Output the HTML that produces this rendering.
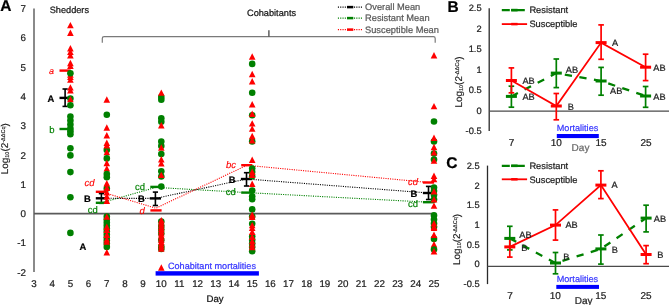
<!DOCTYPE html>
<html><head><meta charset="utf-8"><style>
html,body{margin:0;padding:0;background:#fff;}
body{width:669px;height:305px;overflow:hidden;}
svg{display:block;font-family:"Liberation Sans", sans-serif;will-change:transform;text-rendering:geometricPrecision;}
</style></head><body>
<svg width="669" height="305" viewBox="0 0 669 305">
<rect width="669" height="305" fill="#fff"/>
<text x="0.3" y="11.2" font-size="15.5" fill="#000" stroke="#000" stroke-width="0.22" text-anchor="start" font-weight="bold" font-style="normal" >A</text>
<text x="26" y="12.0" font-size="9.8" fill="#222" stroke="#222" stroke-width="0.22" text-anchor="end" font-weight="normal" font-style="normal" >7</text>
<text x="26" y="41.3" font-size="9.8" fill="#222" stroke="#222" stroke-width="0.22" text-anchor="end" font-weight="normal" font-style="normal" >6</text>
<text x="26" y="70.6" font-size="9.8" fill="#222" stroke="#222" stroke-width="0.22" text-anchor="end" font-weight="normal" font-style="normal" >5</text>
<text x="26" y="99.9" font-size="9.8" fill="#222" stroke="#222" stroke-width="0.22" text-anchor="end" font-weight="normal" font-style="normal" >4</text>
<text x="26" y="129.2" font-size="9.8" fill="#222" stroke="#222" stroke-width="0.22" text-anchor="end" font-weight="normal" font-style="normal" >3</text>
<text x="26" y="158.5" font-size="9.8" fill="#222" stroke="#222" stroke-width="0.22" text-anchor="end" font-weight="normal" font-style="normal" >2</text>
<text x="26" y="187.8" font-size="9.8" fill="#222" stroke="#222" stroke-width="0.22" text-anchor="end" font-weight="normal" font-style="normal" >1</text>
<text x="26" y="217.1" font-size="9.8" fill="#222" stroke="#222" stroke-width="0.22" text-anchor="end" font-weight="normal" font-style="normal" >0</text>
<text x="26" y="246.4" font-size="9.8" fill="#222" stroke="#222" stroke-width="0.22" text-anchor="end" font-weight="normal" font-style="normal" >-1</text>
<text x="26" y="275.7" font-size="9.8" fill="#222" stroke="#222" stroke-width="0.22" text-anchor="end" font-weight="normal" font-style="normal" >-2</text>
<text x="34.0" y="286.8" font-size="9.8" fill="#222" stroke="#222" stroke-width="0.22" text-anchor="middle" font-weight="normal" font-style="normal" >3</text>
<text x="52.18" y="286.8" font-size="9.8" fill="#222" stroke="#222" stroke-width="0.22" text-anchor="middle" font-weight="normal" font-style="normal" >4</text>
<text x="70.36" y="286.8" font-size="9.8" fill="#222" stroke="#222" stroke-width="0.22" text-anchor="middle" font-weight="normal" font-style="normal" >5</text>
<text x="88.54" y="286.8" font-size="9.8" fill="#222" stroke="#222" stroke-width="0.22" text-anchor="middle" font-weight="normal" font-style="normal" >6</text>
<text x="106.72" y="286.8" font-size="9.8" fill="#222" stroke="#222" stroke-width="0.22" text-anchor="middle" font-weight="normal" font-style="normal" >7</text>
<text x="124.9" y="286.8" font-size="9.8" fill="#222" stroke="#222" stroke-width="0.22" text-anchor="middle" font-weight="normal" font-style="normal" >8</text>
<text x="143.08" y="286.8" font-size="9.8" fill="#222" stroke="#222" stroke-width="0.22" text-anchor="middle" font-weight="normal" font-style="normal" >9</text>
<text x="161.26" y="286.8" font-size="9.8" fill="#222" stroke="#222" stroke-width="0.22" text-anchor="middle" font-weight="normal" font-style="normal" >10</text>
<text x="179.44" y="286.8" font-size="9.8" fill="#222" stroke="#222" stroke-width="0.22" text-anchor="middle" font-weight="normal" font-style="normal" >11</text>
<text x="197.62" y="286.8" font-size="9.8" fill="#222" stroke="#222" stroke-width="0.22" text-anchor="middle" font-weight="normal" font-style="normal" >12</text>
<text x="215.8" y="286.8" font-size="9.8" fill="#222" stroke="#222" stroke-width="0.22" text-anchor="middle" font-weight="normal" font-style="normal" >13</text>
<text x="233.98" y="286.8" font-size="9.8" fill="#222" stroke="#222" stroke-width="0.22" text-anchor="middle" font-weight="normal" font-style="normal" >14</text>
<text x="252.16" y="286.8" font-size="9.8" fill="#222" stroke="#222" stroke-width="0.22" text-anchor="middle" font-weight="normal" font-style="normal" >15</text>
<text x="270.34" y="286.8" font-size="9.8" fill="#222" stroke="#222" stroke-width="0.22" text-anchor="middle" font-weight="normal" font-style="normal" >16</text>
<text x="288.52" y="286.8" font-size="9.8" fill="#222" stroke="#222" stroke-width="0.22" text-anchor="middle" font-weight="normal" font-style="normal" >17</text>
<text x="306.7" y="286.8" font-size="9.8" fill="#222" stroke="#222" stroke-width="0.22" text-anchor="middle" font-weight="normal" font-style="normal" >18</text>
<text x="324.88" y="286.8" font-size="9.8" fill="#222" stroke="#222" stroke-width="0.22" text-anchor="middle" font-weight="normal" font-style="normal" >19</text>
<text x="343.06" y="286.8" font-size="9.8" fill="#222" stroke="#222" stroke-width="0.22" text-anchor="middle" font-weight="normal" font-style="normal" >20</text>
<text x="361.24" y="286.8" font-size="9.8" fill="#222" stroke="#222" stroke-width="0.22" text-anchor="middle" font-weight="normal" font-style="normal" >21</text>
<text x="379.42" y="286.8" font-size="9.8" fill="#222" stroke="#222" stroke-width="0.22" text-anchor="middle" font-weight="normal" font-style="normal" >22</text>
<text x="397.6" y="286.8" font-size="9.8" fill="#222" stroke="#222" stroke-width="0.22" text-anchor="middle" font-weight="normal" font-style="normal" >23</text>
<text x="415.78" y="286.8" font-size="9.8" fill="#222" stroke="#222" stroke-width="0.22" text-anchor="middle" font-weight="normal" font-style="normal" >24</text>
<text x="433.96" y="286.8" font-size="9.8" fill="#222" stroke="#222" stroke-width="0.22" text-anchor="middle" font-weight="normal" font-style="normal" >25</text>
<text x="215" y="301.7" font-size="9.6" fill="#111" stroke="#111" stroke-width="0.22" text-anchor="middle" font-weight="normal" font-style="normal" >Day</text>
<line x1="34" y1="8.5" x2="34" y2="272" stroke="#8a8a8a" stroke-width="2" />
<line x1="34" y1="213.6" x2="434" y2="213.6" stroke="#5a5a5a" stroke-width="1.7" />
<text transform="translate(7.5,148.7) rotate(-90)" font-size="9.9" fill="#222" stroke="#222" stroke-width="0.15" text-anchor="middle">Log<tspan font-size="5.54" dy="1.6">10</tspan><tspan dy="-1.6">(2</tspan><tspan font-size="5.54" dy="-2.6">-ΔΔCq</tspan><tspan dy="2.6">)</tspan></text>
<text x="49.7" y="12.7" font-size="9.2" fill="#111" stroke="#111" stroke-width="0.22" text-anchor="start" font-weight="normal" font-style="normal" >Shedders</text>
<text x="247" y="16" font-size="9.2" fill="#111" stroke="#111" stroke-width="0.22" text-anchor="start" font-weight="normal" font-style="normal" >Cohabitants</text>
<path d="M102.3 42.8 L102.3 38.4 Q102.3 36.6 104.1 36.6 L433.4 36.6 Q435.2 36.6 435.2 38.4 L435.2 42.8" fill="none" stroke="#7a7a7a" stroke-width="1.2"/>
<line x1="268.9" y1="30.2" x2="268.9" y2="36.6" stroke="#444" stroke-width="1.3" />
<line x1="337.9" y1="7.1" x2="362.5" y2="7.1" stroke="#000000" stroke-width="1.1" stroke-dasharray="1.1 1.2"/>
<rect x="347" y="5.85" width="6.3" height="2.5" fill="#000000"/>
<text x="365" y="10.399999999999999" font-size="9.3" fill="#595959" stroke="#595959" stroke-width="0.22" text-anchor="start" font-weight="normal" font-style="normal" >Overall Mean</text>
<line x1="337.9" y1="18.1" x2="362.5" y2="18.1" stroke="#008000" stroke-width="1.1" stroke-dasharray="1.1 1.2"/>
<rect x="347" y="16.85" width="6.3" height="2.5" fill="#008000"/>
<text x="365" y="21.400000000000002" font-size="9.3" fill="#595959" stroke="#595959" stroke-width="0.22" text-anchor="start" font-weight="normal" font-style="normal" >Resistant Mean</text>
<line x1="337.9" y1="29.6" x2="362.5" y2="29.6" stroke="#ff0000" stroke-width="1.1" stroke-dasharray="1.1 1.2"/>
<rect x="347" y="28.35" width="6.3" height="2.5" fill="#ff0000"/>
<text x="365" y="32.9" font-size="9.3" fill="#595959" stroke="#595959" stroke-width="0.22" text-anchor="start" font-weight="normal" font-style="normal" >Susceptible Mean</text>
<rect x="155.6" y="271.2" width="103.3" height="4.4" fill="#0000ff"/>
<text x="168" y="268.6" font-size="9.1" fill="#3737ff" stroke="#3737ff" stroke-width="0.22" text-anchor="start" font-weight="normal" font-style="normal" >Cohabitant mortalities</text>
<polyline points="101.4,202.8 155.9,187.4 246.8,192.6 428.5,202.2" fill="none" stroke="#008000" stroke-width="1.1" stroke-dasharray="1.1 1.2"/>
<polyline points="101.4,198.3 155.4,198.4 246.5,179.0 428.5,193.0" fill="none" stroke="#000000" stroke-width="1.1" stroke-dasharray="1.1 1.2"/>
<polyline points="101.4,191.8 155.8,208.2 246.8,165.3 428.5,182.5" fill="none" stroke="#ff0000" stroke-width="1.1" stroke-dasharray="1.1 1.2"/>
<rect x="59.5" y="69.4" width="11.2" height="2.4" fill="#ff0000"/>
<rect x="59.5" y="127.8" width="11.2" height="2.4" fill="#008000"/>
<line x1="65.1" y1="89.0" x2="65.1" y2="106.4" stroke="#000000" stroke-width="1.6" />
<line x1="62.49999999999999" y1="89.0" x2="67.69999999999999" y2="89.0" stroke="#000000" stroke-width="1.6" />
<line x1="62.49999999999999" y1="106.4" x2="67.69999999999999" y2="106.4" stroke="#000000" stroke-width="1.6" />
<rect x="59.5" y="96.7" width="11.2" height="2.4" fill="#000000"/>
<rect x="95.8" y="190.6" width="11.2" height="2.4" fill="#ff0000"/>
<line x1="101.4" y1="193.6" x2="101.4" y2="203.3" stroke="#000000" stroke-width="1.6" />
<line x1="98.80000000000001" y1="193.6" x2="104.0" y2="193.6" stroke="#000000" stroke-width="1.6" />
<line x1="98.80000000000001" y1="203.3" x2="104.0" y2="203.3" stroke="#000000" stroke-width="1.6" />
<rect x="95.8" y="197.1" width="11.2" height="2.4" fill="#000000"/>
<rect x="95.8" y="201.6" width="11.2" height="2.4" fill="#008000"/>
<rect x="150.3" y="185.7" width="11.2" height="2.4" fill="#008000"/>
<line x1="155.4" y1="192.1" x2="155.4" y2="205.5" stroke="#000000" stroke-width="1.6" />
<line x1="152.8" y1="192.1" x2="158.0" y2="192.1" stroke="#000000" stroke-width="1.6" />
<line x1="152.8" y1="205.5" x2="158.0" y2="205.5" stroke="#000000" stroke-width="1.6" />
<rect x="149.8" y="197.2" width="11.2" height="2.4" fill="#000000"/>
<rect x="150.4" y="209.2" width="11.2" height="2.4" fill="#ff0000"/>
<rect x="241.2" y="164.0" width="11.2" height="2.4" fill="#ff0000"/>
<line x1="246.5" y1="172.7" x2="246.5" y2="186.0" stroke="#000000" stroke-width="1.6" />
<line x1="243.9" y1="172.7" x2="249.1" y2="172.7" stroke="#000000" stroke-width="1.6" />
<line x1="243.9" y1="186.0" x2="249.1" y2="186.0" stroke="#000000" stroke-width="1.6" />
<rect x="240.9" y="177.8" width="11.2" height="2.4" fill="#000000"/>
<rect x="241.2" y="191.4" width="11.2" height="2.4" fill="#008000"/>
<rect x="422.9" y="181.3" width="11.2" height="2.4" fill="#ff0000"/>
<line x1="428.5" y1="186.4" x2="428.5" y2="199.5" stroke="#000000" stroke-width="1.6" />
<line x1="425.9" y1="186.4" x2="431.1" y2="186.4" stroke="#000000" stroke-width="1.6" />
<line x1="425.9" y1="199.5" x2="431.1" y2="199.5" stroke="#000000" stroke-width="1.6" />
<rect x="422.9" y="191.8" width="11.2" height="2.4" fill="#000000"/>
<rect x="422.9" y="201.0" width="11.2" height="2.4" fill="#008000"/>
<text x="48.9" y="73.9" font-size="9" fill="#ff0000" stroke="#ff0000" stroke-width="0.12" text-anchor="start" font-weight="normal" font-style="italic" >a</text>
<text x="49.3" y="133.0" font-size="9.5" fill="#008000" stroke="#008000" stroke-width="0.15" text-anchor="start" font-weight="normal" font-style="normal" >b</text>
<text x="47.4" y="101.7" font-size="9.4" fill="#000" stroke="#000" stroke-width="0.22" text-anchor="start" font-weight="bold" font-style="normal" >A</text>
<text x="79.5" y="250.20000000000002" font-size="9.4" fill="#000" stroke="#000" stroke-width="0.22" text-anchor="start" font-weight="bold" font-style="normal" >A</text>
<text x="84.5" y="185.8" font-size="9.5" fill="#ff0000" stroke="#ff0000" stroke-width="0.12" text-anchor="start" font-weight="normal" font-style="italic" >cd</text>
<text x="83.9" y="202.10000000000002" font-size="9.4" fill="#000" stroke="#000" stroke-width="0.22" text-anchor="start" font-weight="bold" font-style="normal" >B</text>
<text x="87.7" y="213.0" font-size="9.5" fill="#008000" stroke="#008000" stroke-width="0.15" text-anchor="start" font-weight="normal" font-style="normal" >cd</text>
<text x="135.0" y="189.6" font-size="9.5" fill="#008000" stroke="#008000" stroke-width="0.15" text-anchor="start" font-weight="normal" font-style="normal" >cd</text>
<text x="137.9" y="201.8" font-size="9.4" fill="#000" stroke="#000" stroke-width="0.22" text-anchor="start" font-weight="bold" font-style="normal" >B</text>
<text x="139.5" y="213.5" font-size="9.5" fill="#ff0000" stroke="#ff0000" stroke-width="0.12" text-anchor="start" font-weight="normal" font-style="italic" >d</text>
<text x="226.0" y="167.5" font-size="9.5" fill="#ff0000" stroke="#ff0000" stroke-width="0.12" text-anchor="start" font-weight="normal" font-style="italic" >bc</text>
<text x="228.8" y="182.60000000000002" font-size="9.4" fill="#000" stroke="#000" stroke-width="0.22" text-anchor="start" font-weight="bold" font-style="normal" >B</text>
<text x="225.7" y="195.4" font-size="9.5" fill="#008000" stroke="#008000" stroke-width="0.15" text-anchor="start" font-weight="normal" font-style="normal" >cd</text>
<text x="408.0" y="185.1" font-size="9.5" fill="#ff0000" stroke="#ff0000" stroke-width="0.12" text-anchor="start" font-weight="normal" font-style="italic" >cd</text>
<text x="410.4" y="196.5" font-size="9.4" fill="#000" stroke="#000" stroke-width="0.22" text-anchor="start" font-weight="bold" font-style="normal" >B</text>
<text x="407.9" y="207.0" font-size="9.5" fill="#008000" stroke="#008000" stroke-width="0.15" text-anchor="start" font-weight="normal" font-style="normal" >cd</text>
<path d="M70.40 21.90L73.70 28.30L67.10 28.30Z" fill="#ff0000"/>
<path d="M70.40 29.60L73.70 36.00L67.10 36.00Z" fill="#ff0000"/>
<path d="M70.40 45.00L73.70 51.40L67.10 51.40Z" fill="#ff0000"/>
<path d="M70.40 48.70L73.70 55.10L67.10 55.10Z" fill="#ff0000"/>
<path d="M70.40 52.10L73.70 58.50L67.10 58.50Z" fill="#ff0000"/>
<path d="M70.40 59.80L73.70 66.20L67.10 66.20Z" fill="#ff0000"/>
<path d="M70.40 62.60L73.70 69.00L67.10 69.00Z" fill="#ff0000"/>
<path d="M70.40 71.40L73.70 77.80L67.10 77.80Z" fill="#ff0000"/>
<path d="M70.40 73.70L73.70 80.10L67.10 80.10Z" fill="#ff0000"/>
<path d="M70.40 76.40L73.70 82.80L67.10 82.80Z" fill="#ff0000"/>
<circle cx="70.40" cy="73.30" r="3.3" fill="#008000"/>
<path d="M70.40 84.20L73.70 90.60L67.10 90.60Z" fill="#ff0000"/>
<path d="M70.40 87.10L73.70 93.50L67.10 93.50Z" fill="#ff0000"/>
<circle cx="70.40" cy="98.50" r="3.3" fill="#008000"/>
<path d="M70.40 95.90L73.70 102.30L67.10 102.30Z" fill="#ff0000"/>
<circle cx="70.40" cy="105.20" r="3.3" fill="#008000"/>
<circle cx="70.40" cy="116.50" r="3.3" fill="#008000"/>
<circle cx="70.40" cy="120.50" r="3.3" fill="#008000"/>
<circle cx="70.40" cy="124.50" r="3.3" fill="#008000"/>
<circle cx="70.40" cy="128.50" r="3.3" fill="#008000"/>
<circle cx="70.40" cy="131.30" r="3.3" fill="#008000"/>
<circle cx="70.40" cy="134.20" r="3.3" fill="#008000"/>
<circle cx="70.40" cy="148.30" r="3.3" fill="#008000"/>
<circle cx="70.40" cy="155.40" r="3.3" fill="#008000"/>
<circle cx="70.40" cy="172.10" r="3.3" fill="#008000"/>
<circle cx="70.40" cy="197.30" r="3.3" fill="#008000"/>
<circle cx="70.40" cy="232.90" r="3.3" fill="#008000"/>
<path d="M106.80 96.30L110.10 102.70L103.50 102.70Z" fill="#ff0000"/>
<circle cx="106.80" cy="114.80" r="3.3" fill="#008000"/>
<path d="M106.80 124.30L110.10 130.70L103.50 130.70Z" fill="#ff0000"/>
<path d="M106.80 132.10L110.10 138.50L103.50 138.50Z" fill="#ff0000"/>
<circle cx="106.80" cy="150.00" r="3.3" fill="#008000"/>
<path d="M106.80 139.60L110.10 146.00L103.50 146.00Z" fill="#ff0000"/>
<path d="M106.80 142.10L110.10 148.50L103.50 148.50Z" fill="#ff0000"/>
<path d="M106.80 148.90L110.10 155.30L103.50 155.30Z" fill="#ff0000"/>
<circle cx="106.80" cy="158.40" r="3.3" fill="#008000"/>
<path d="M106.80 159.80L110.10 166.20L103.50 166.20Z" fill="#ff0000"/>
<path d="M106.80 165.20L110.10 171.60L103.50 171.60Z" fill="#ff0000"/>
<circle cx="106.80" cy="174.10" r="3.3" fill="#008000"/>
<circle cx="106.80" cy="177.20" r="3.3" fill="#008000"/>
<circle cx="106.80" cy="188.50" r="3.3" fill="#008000"/>
<path d="M106.80 180.10L110.10 186.50L103.50 186.50Z" fill="#ff0000"/>
<path d="M106.80 184.60L110.10 191.00L103.50 191.00Z" fill="#ff0000"/>
<path d="M106.80 189.10L110.10 195.50L103.50 195.50Z" fill="#ff0000"/>
<path d="M106.80 193.10L110.10 199.50L103.50 199.50Z" fill="#ff0000"/>
<path d="M106.80 197.50L110.10 203.90L103.50 203.90Z" fill="#ff0000"/>
<circle cx="106.80" cy="216.50" r="3.3" fill="#008000"/>
<circle cx="106.80" cy="219.50" r="3.3" fill="#008000"/>
<circle cx="106.80" cy="222.50" r="3.3" fill="#008000"/>
<circle cx="106.80" cy="225.50" r="3.3" fill="#008000"/>
<circle cx="106.80" cy="228.50" r="3.3" fill="#008000"/>
<circle cx="106.80" cy="231.50" r="3.3" fill="#008000"/>
<circle cx="106.80" cy="234.50" r="3.3" fill="#008000"/>
<circle cx="106.80" cy="237.50" r="3.3" fill="#008000"/>
<circle cx="106.80" cy="240.50" r="3.3" fill="#008000"/>
<circle cx="106.80" cy="243.50" r="3.3" fill="#008000"/>
<circle cx="106.80" cy="246.90" r="3.3" fill="#008000"/>
<path d="M106.80 213.40L110.10 219.80L103.50 219.80Z" fill="#ff0000"/>
<path d="M106.80 223.60L110.10 230.00L103.50 230.00Z" fill="#ff0000"/>
<path d="M106.80 226.60L110.10 233.00L103.50 233.00Z" fill="#ff0000"/>
<path d="M106.80 231.60L110.10 238.00L103.50 238.00Z" fill="#ff0000"/>
<path d="M106.80 236.20L110.10 242.60L103.50 242.60Z" fill="#ff0000"/>
<path d="M106.80 238.40L110.10 244.80L103.50 244.80Z" fill="#ff0000"/>
<path d="M106.80 249.00L110.10 255.40L103.50 255.40Z" fill="#ff0000"/>
<circle cx="161.30" cy="97.00" r="3.3" fill="#008000"/>
<circle cx="161.30" cy="99.80" r="3.3" fill="#008000"/>
<path d="M161.30 89.40L164.60 95.80L158.00 95.80Z" fill="#ff0000"/>
<circle cx="161.30" cy="118.30" r="3.3" fill="#008000"/>
<circle cx="161.30" cy="121.80" r="3.3" fill="#008000"/>
<path d="M161.30 122.00L164.60 128.40L158.00 128.40Z" fill="#ff0000"/>
<circle cx="161.30" cy="141.50" r="3.3" fill="#008000"/>
<circle cx="161.30" cy="146.00" r="3.3" fill="#008000"/>
<path d="M161.30 144.30L164.60 150.70L158.00 150.70Z" fill="#ff0000"/>
<circle cx="161.30" cy="154.00" r="3.3" fill="#008000"/>
<path d="M161.30 156.10L164.60 162.50L158.00 162.50Z" fill="#ff0000"/>
<path d="M161.30 160.10L164.60 166.50L158.00 166.50Z" fill="#ff0000"/>
<circle cx="161.30" cy="171.20" r="3.3" fill="#008000"/>
<circle cx="161.30" cy="176.50" r="3.3" fill="#008000"/>
<path d="M161.30 171.70L164.60 178.10L158.00 178.10Z" fill="#ff0000"/>
<circle cx="161.30" cy="186.60" r="3.3" fill="#008000"/>
<circle cx="161.30" cy="221.50" r="3.3" fill="#008000"/>
<circle cx="161.30" cy="226.00" r="3.3" fill="#008000"/>
<circle cx="161.30" cy="229.50" r="3.3" fill="#008000"/>
<circle cx="161.30" cy="233.50" r="3.3" fill="#008000"/>
<circle cx="161.30" cy="240.00" r="3.3" fill="#008000"/>
<circle cx="161.30" cy="246.50" r="3.3" fill="#008000"/>
<circle cx="161.30" cy="249.00" r="3.3" fill="#008000"/>
<path d="M161.30 216.90L164.60 223.30L158.00 223.30Z" fill="#ff0000"/>
<path d="M161.30 219.10L164.60 225.50L158.00 225.50Z" fill="#ff0000"/>
<path d="M161.30 221.30L164.60 227.70L158.00 227.70Z" fill="#ff0000"/>
<path d="M161.30 223.50L164.60 229.90L158.00 229.90Z" fill="#ff0000"/>
<path d="M161.30 225.60L164.60 232.00L158.00 232.00Z" fill="#ff0000"/>
<path d="M161.30 227.80L164.60 234.20L158.00 234.20Z" fill="#ff0000"/>
<path d="M161.30 230.00L164.60 236.40L158.00 236.40Z" fill="#ff0000"/>
<path d="M161.30 232.20L164.60 238.60L158.00 238.60Z" fill="#ff0000"/>
<path d="M161.30 234.40L164.60 240.80L158.00 240.80Z" fill="#ff0000"/>
<path d="M161.30 236.60L164.60 243.00L158.00 243.00Z" fill="#ff0000"/>
<path d="M161.30 238.70L164.60 245.10L158.00 245.10Z" fill="#ff0000"/>
<path d="M161.30 240.90L164.60 247.30L158.00 247.30Z" fill="#ff0000"/>
<path d="M161.30 243.10L164.60 249.50L158.00 249.50Z" fill="#ff0000"/>
<path d="M161.30 245.30L164.60 251.70L158.00 251.70Z" fill="#ff0000"/>
<path d="M161.30 264.30L164.60 270.70L158.00 270.70Z" fill="#ff0000"/>
<path d="M252.20 53.30L255.50 59.70L248.90 59.70Z" fill="#ff0000"/>
<circle cx="252.20" cy="63.90" r="3.3" fill="#008000"/>
<path d="M252.20 70.80L255.50 77.20L248.90 77.20Z" fill="#ff0000"/>
<path d="M252.20 78.10L255.50 84.50L248.90 84.50Z" fill="#ff0000"/>
<circle cx="252.20" cy="92.70" r="3.3" fill="#008000"/>
<path d="M252.20 101.00L255.50 107.40L248.90 107.40Z" fill="#ff0000"/>
<circle cx="252.20" cy="115.20" r="3.3" fill="#008000"/>
<path d="M252.20 110.50L255.50 116.90L248.90 116.90Z" fill="#ff0000"/>
<path d="M252.20 120.20L255.50 126.60L248.90 126.60Z" fill="#ff0000"/>
<path d="M252.20 125.40L255.50 131.80L248.90 131.80Z" fill="#ff0000"/>
<circle cx="252.20" cy="141.40" r="3.3" fill="#008000"/>
<path d="M252.20 132.80L255.50 139.20L248.90 139.20Z" fill="#ff0000"/>
<path d="M252.20 137.20L255.50 143.60L248.90 143.60Z" fill="#ff0000"/>
<path d="M252.20 156.50L255.50 162.90L248.90 162.90Z" fill="#ff0000"/>
<circle cx="252.20" cy="168.50" r="3.3" fill="#008000"/>
<circle cx="252.20" cy="172.00" r="3.3" fill="#008000"/>
<circle cx="252.20" cy="176.20" r="3.3" fill="#008000"/>
<path d="M252.20 168.60L255.50 175.00L248.90 175.00Z" fill="#ff0000"/>
<path d="M252.20 171.60L255.50 178.00L248.90 178.00Z" fill="#ff0000"/>
<path d="M252.20 180.50L255.50 186.90L248.90 186.90Z" fill="#ff0000"/>
<circle cx="252.20" cy="190.50" r="3.3" fill="#008000"/>
<circle cx="252.20" cy="196.20" r="3.3" fill="#008000"/>
<circle cx="252.20" cy="199.20" r="3.3" fill="#008000"/>
<circle cx="252.20" cy="209.40" r="3.3" fill="#008000"/>
<circle cx="252.20" cy="216.50" r="3.3" fill="#008000"/>
<path d="M252.20 211.40L255.50 217.80L248.90 217.80Z" fill="#ff0000"/>
<path d="M252.20 213.60L255.50 220.00L248.90 220.00Z" fill="#ff0000"/>
<circle cx="252.20" cy="223.70" r="3.3" fill="#008000"/>
<circle cx="252.20" cy="236.50" r="3.3" fill="#008000"/>
<circle cx="252.20" cy="240.00" r="3.3" fill="#008000"/>
<circle cx="252.20" cy="243.50" r="3.3" fill="#008000"/>
<circle cx="252.20" cy="247.00" r="3.3" fill="#008000"/>
<circle cx="252.20" cy="251.30" r="3.3" fill="#008000"/>
<path d="M252.20 221.90L255.50 228.30L248.90 228.30Z" fill="#ff0000"/>
<path d="M252.20 224.60L255.50 231.00L248.90 231.00Z" fill="#ff0000"/>
<path d="M252.20 228.60L255.50 235.00L248.90 235.00Z" fill="#ff0000"/>
<path d="M252.20 233.60L255.50 240.00L248.90 240.00Z" fill="#ff0000"/>
<path d="M252.20 237.90L255.50 244.30L248.90 244.30Z" fill="#ff0000"/>
<path d="M252.20 241.10L255.50 247.50L248.90 247.50Z" fill="#ff0000"/>
<path d="M252.20 243.80L255.50 250.20L248.90 250.20Z" fill="#ff0000"/>
<path d="M434.00 52.00L437.30 58.40L430.70 58.40Z" fill="#ff0000"/>
<path d="M434.00 102.90L437.30 109.30L430.70 109.30Z" fill="#ff0000"/>
<circle cx="434.00" cy="121.50" r="3.3" fill="#008000"/>
<circle cx="434.00" cy="141.50" r="3.3" fill="#008000"/>
<path d="M434.00 134.60L437.30 141.00L430.70 141.00Z" fill="#ff0000"/>
<path d="M434.00 143.80L437.30 150.20L430.70 150.20Z" fill="#ff0000"/>
<circle cx="434.00" cy="153.50" r="3.3" fill="#008000"/>
<circle cx="434.00" cy="159.50" r="3.3" fill="#008000"/>
<path d="M434.00 149.00L437.30 155.40L430.70 155.40Z" fill="#ff0000"/>
<path d="M434.00 157.40L437.30 163.80L430.70 163.80Z" fill="#ff0000"/>
<path d="M434.00 172.60L437.30 179.00L430.70 179.00Z" fill="#ff0000"/>
<path d="M434.00 175.80L437.30 182.20L430.70 182.20Z" fill="#ff0000"/>
<circle cx="434.00" cy="187.50" r="3.3" fill="#008000"/>
<circle cx="434.00" cy="191.00" r="3.3" fill="#008000"/>
<circle cx="434.00" cy="195.00" r="3.3" fill="#008000"/>
<circle cx="434.00" cy="199.60" r="3.3" fill="#008000"/>
<path d="M434.00 188.10L437.30 194.50L430.70 194.50Z" fill="#ff0000"/>
<path d="M434.00 196.10L437.30 202.50L430.70 202.50Z" fill="#ff0000"/>
<path d="M434.00 202.40L437.30 208.80L430.70 208.80Z" fill="#ff0000"/>
<circle cx="434.00" cy="215.40" r="3.3" fill="#008000"/>
<circle cx="434.00" cy="219.50" r="3.3" fill="#008000"/>
<circle cx="434.00" cy="223.50" r="3.3" fill="#008000"/>
<circle cx="434.00" cy="227.00" r="3.3" fill="#008000"/>
<path d="M434.00 220.10L437.30 226.50L430.70 226.50Z" fill="#ff0000"/>
<path d="M434.00 224.70L437.30 231.10L430.70 231.10Z" fill="#ff0000"/>
<path d="M434.00 223.50L437.30 229.90L430.70 229.90Z" fill="#ff0000"/>
<circle cx="434.00" cy="238.90" r="3.3" fill="#008000"/>
<path d="M434.00 231.50L437.30 237.90L430.70 237.90Z" fill="#ff0000"/>
<path d="M434.00 241.10L437.30 247.50L430.70 247.50Z" fill="#ff0000"/>
<circle cx="434.00" cy="249.60" r="3.3" fill="#008000"/>
<path d="M434.00 248.10L437.30 254.50L430.70 254.50Z" fill="#ff0000"/>
<text x="447.6" y="11.8" font-size="15.5" fill="#000" stroke="#000" stroke-width="0.22" text-anchor="start" font-weight="bold" font-style="normal" >B</text>
<text x="481.6" y="11.1" font-size="9.3" fill="#222" stroke="#222" stroke-width="0.22" text-anchor="end" font-weight="normal" font-style="normal" >2.5</text>
<text x="481.6" y="31.64" font-size="9.3" fill="#222" stroke="#222" stroke-width="0.22" text-anchor="end" font-weight="normal" font-style="normal" >2</text>
<text x="481.6" y="52.18" font-size="9.3" fill="#222" stroke="#222" stroke-width="0.22" text-anchor="end" font-weight="normal" font-style="normal" >1.5</text>
<text x="481.6" y="72.72" font-size="9.3" fill="#222" stroke="#222" stroke-width="0.22" text-anchor="end" font-weight="normal" font-style="normal" >1</text>
<text x="481.6" y="93.26" font-size="9.3" fill="#222" stroke="#222" stroke-width="0.22" text-anchor="end" font-weight="normal" font-style="normal" >0.5</text>
<text x="481.6" y="113.8" font-size="9.3" fill="#222" stroke="#222" stroke-width="0.22" text-anchor="end" font-weight="normal" font-style="normal" >0</text>
<text x="481.6" y="134.34" font-size="9.3" fill="#222" stroke="#222" stroke-width="0.22" text-anchor="end" font-weight="normal" font-style="normal" >-0.5</text>
<text x="511.6" y="146.2" font-size="10" fill="#222" stroke="#222" stroke-width="0.22" text-anchor="middle" font-weight="normal" font-style="normal" >7</text>
<text x="556.2" y="146.2" font-size="10" fill="#222" stroke="#222" stroke-width="0.22" text-anchor="middle" font-weight="normal" font-style="normal" >10</text>
<text x="601" y="146.2" font-size="10" fill="#222" stroke="#222" stroke-width="0.22" text-anchor="middle" font-weight="normal" font-style="normal" >15</text>
<text x="646" y="146.2" font-size="10" fill="#222" stroke="#222" stroke-width="0.22" text-anchor="middle" font-weight="normal" font-style="normal" >25</text>
<line x1="489.2" y1="8.3" x2="489.2" y2="131.1" stroke="#2a2a2a" stroke-width="1.3" />
<line x1="489.2" y1="111.1" x2="669" y2="111.1" stroke="#4a4a4a" stroke-width="1.3" />
<text transform="translate(461.5,82) rotate(-90)" font-size="9.9" fill="#222" stroke="#222" stroke-width="0.15" text-anchor="middle">Log<tspan font-size="5.54" dy="1.6">10</tspan><tspan dy="-1.6">(2</tspan><tspan font-size="5.54" dy="-2.6">-ΔΔCq</tspan><tspan dy="2.6">)</tspan></text>
<text x="556.8" y="131.0" font-size="9.1" fill="#3737ff" stroke="#3737ff" stroke-width="0.22" text-anchor="start" font-weight="normal" font-style="normal" >Mortalities</text>
<rect x="556.8" y="134.0" width="42.0" height="4.1" fill="#0000ff"/>
<text x="571.6" y="151.0" font-size="10" fill="#666" stroke="#666" stroke-width="0.22" text-anchor="start" font-weight="normal" font-style="normal" >Day</text>
<line x1="501.8" y1="10.1" x2="524.8" y2="10.1" stroke="#008000" stroke-width="2.3" stroke-dasharray="8 1.3 20"/>
<rect x="511.2" y="8.8" width="6.4" height="2.6" fill="#008000"/>
<line x1="501.8" y1="24.1" x2="527.1" y2="24.1" stroke="#ff0000" stroke-width="1.8" />
<rect x="511.2" y="22.85" width="6.4" height="2.5" fill="#ff0000"/>
<text x="529.4" y="13.4" font-size="9.3" fill="#222" stroke="#222" stroke-width="0.22" text-anchor="start" font-weight="normal" font-style="normal" >Resistant</text>
<text x="529.4" y="27.4" font-size="9.3" fill="#222" stroke="#222" stroke-width="0.22" text-anchor="start" font-weight="normal" font-style="normal" >Susceptible</text>
<polyline points="511.4,96.4 556.3,73.1 601.1,81.0 645.6,96.0" fill="none" stroke="#008000" stroke-width="2.3" stroke-dasharray="7.3 7.5"/>
<polyline points="511.4,80.5 556.3,106.0 601.1,42.6 645.6,67.2" fill="none" stroke="#ff0000" stroke-width="1.8"/>
<line x1="511.4" y1="86.2" x2="511.4" y2="107.2" stroke="#008000" stroke-width="1.7" />
<line x1="508.59999999999997" y1="86.2" x2="514.1999999999999" y2="86.2" stroke="#008000" stroke-width="1.7" />
<line x1="508.59999999999997" y1="107.2" x2="514.1999999999999" y2="107.2" stroke="#008000" stroke-width="1.7" />
<line x1="556.3" y1="59.0" x2="556.3" y2="87.6" stroke="#008000" stroke-width="1.7" />
<line x1="553.5" y1="59.0" x2="559.0999999999999" y2="59.0" stroke="#008000" stroke-width="1.7" />
<line x1="553.5" y1="87.6" x2="559.0999999999999" y2="87.6" stroke="#008000" stroke-width="1.7" />
<line x1="601.1" y1="67.4" x2="601.1" y2="95.2" stroke="#008000" stroke-width="1.7" />
<line x1="598.3000000000001" y1="67.4" x2="603.9" y2="67.4" stroke="#008000" stroke-width="1.7" />
<line x1="598.3000000000001" y1="95.2" x2="603.9" y2="95.2" stroke="#008000" stroke-width="1.7" />
<line x1="645.6" y1="86.5" x2="645.6" y2="107.3" stroke="#008000" stroke-width="1.7" />
<line x1="642.8000000000001" y1="86.5" x2="648.4" y2="86.5" stroke="#008000" stroke-width="1.7" />
<line x1="642.8000000000001" y1="107.3" x2="648.4" y2="107.3" stroke="#008000" stroke-width="1.7" />
<line x1="511.4" y1="67.9" x2="511.4" y2="92.8" stroke="#ff0000" stroke-width="1.7" />
<line x1="508.59999999999997" y1="67.9" x2="514.1999999999999" y2="67.9" stroke="#ff0000" stroke-width="1.7" />
<line x1="508.59999999999997" y1="92.8" x2="514.1999999999999" y2="92.8" stroke="#ff0000" stroke-width="1.7" />
<line x1="556.3" y1="93.5" x2="556.3" y2="119.8" stroke="#ff0000" stroke-width="1.7" />
<line x1="553.5" y1="93.5" x2="559.0999999999999" y2="93.5" stroke="#ff0000" stroke-width="1.7" />
<line x1="553.5" y1="119.8" x2="559.0999999999999" y2="119.8" stroke="#ff0000" stroke-width="1.7" />
<line x1="601.1" y1="24.9" x2="601.1" y2="59.3" stroke="#ff0000" stroke-width="1.7" />
<line x1="598.3000000000001" y1="24.9" x2="603.9" y2="24.9" stroke="#ff0000" stroke-width="1.7" />
<line x1="598.3000000000001" y1="59.3" x2="603.9" y2="59.3" stroke="#ff0000" stroke-width="1.7" />
<line x1="645.6" y1="54.2" x2="645.6" y2="80.6" stroke="#ff0000" stroke-width="1.7" />
<line x1="642.8000000000001" y1="54.2" x2="648.4" y2="54.2" stroke="#ff0000" stroke-width="1.7" />
<line x1="642.8000000000001" y1="80.6" x2="648.4" y2="80.6" stroke="#ff0000" stroke-width="1.7" />
<rect x="505.9" y="94.9" width="11" height="3" fill="#008000"/>
<rect x="550.8" y="71.6" width="11" height="3" fill="#008000"/>
<rect x="595.6" y="79.5" width="11" height="3" fill="#008000"/>
<rect x="640.1" y="94.5" width="11" height="3" fill="#008000"/>
<rect x="505.9" y="79.0" width="11" height="3" fill="#ff0000"/>
<rect x="550.8" y="104.5" width="11" height="3" fill="#ff0000"/>
<rect x="595.6" y="41.1" width="11" height="3" fill="#ff0000"/>
<rect x="640.1" y="65.7" width="11" height="3" fill="#ff0000"/>
<text x="522.4" y="83.5" font-size="9.2" fill="#222" stroke="#222" stroke-width="0.22" text-anchor="start" font-weight="normal" font-style="normal" >AB</text>
<text x="522.4" y="100.1" font-size="9.2" fill="#222" stroke="#222" stroke-width="0.22" text-anchor="start" font-weight="normal" font-style="normal" >AB</text>
<text x="565.8" y="73.0" font-size="9.2" fill="#222" stroke="#222" stroke-width="0.22" text-anchor="start" font-weight="normal" font-style="normal" >AB</text>
<text x="567.7" y="109.7" font-size="9.2" fill="#222" stroke="#222" stroke-width="0.22" text-anchor="start" font-weight="normal" font-style="normal" >B</text>
<text x="612.0" y="45.9" font-size="9.2" fill="#222" stroke="#222" stroke-width="0.22" text-anchor="start" font-weight="normal" font-style="normal" >A</text>
<text x="610.1" y="94.1" font-size="9.2" fill="#222" stroke="#222" stroke-width="0.22" text-anchor="start" font-weight="normal" font-style="normal" >AB</text>
<text x="653.3" y="70.7" font-size="9.2" fill="#222" stroke="#222" stroke-width="0.22" text-anchor="start" font-weight="normal" font-style="normal" >AB</text>
<text x="653.3" y="99.8" font-size="9.2" fill="#222" stroke="#222" stroke-width="0.22" text-anchor="start" font-weight="normal" font-style="normal" >AB</text>
<text x="446.2" y="167.7" font-size="15.5" fill="#000" stroke="#000" stroke-width="0.22" text-anchor="start" font-weight="bold" font-style="normal" >C</text>
<text x="479.6" y="168.8" font-size="9.3" fill="#222" stroke="#222" stroke-width="0.22" text-anchor="end" font-weight="normal" font-style="normal" >2.5</text>
<text x="479.6" y="188.5" font-size="9.3" fill="#222" stroke="#222" stroke-width="0.22" text-anchor="end" font-weight="normal" font-style="normal" >2</text>
<text x="479.6" y="208.2" font-size="9.3" fill="#222" stroke="#222" stroke-width="0.22" text-anchor="end" font-weight="normal" font-style="normal" >1.5</text>
<text x="479.6" y="227.9" font-size="9.3" fill="#222" stroke="#222" stroke-width="0.22" text-anchor="end" font-weight="normal" font-style="normal" >1</text>
<text x="479.6" y="247.6" font-size="9.3" fill="#222" stroke="#222" stroke-width="0.22" text-anchor="end" font-weight="normal" font-style="normal" >0.5</text>
<text x="479.6" y="267.3" font-size="9.3" fill="#222" stroke="#222" stroke-width="0.22" text-anchor="end" font-weight="normal" font-style="normal" >0</text>
<text x="479.6" y="287.0" font-size="9.3" fill="#222" stroke="#222" stroke-width="0.22" text-anchor="end" font-weight="normal" font-style="normal" >-0.5</text>
<text x="510" y="298.7" font-size="10" fill="#222" stroke="#222" stroke-width="0.22" text-anchor="middle" font-weight="normal" font-style="normal" >7</text>
<text x="555.3" y="298.7" font-size="10" fill="#222" stroke="#222" stroke-width="0.22" text-anchor="middle" font-weight="normal" font-style="normal" >10</text>
<text x="600.7" y="298.7" font-size="10" fill="#222" stroke="#222" stroke-width="0.22" text-anchor="middle" font-weight="normal" font-style="normal" >15</text>
<text x="646" y="298.7" font-size="10" fill="#222" stroke="#222" stroke-width="0.22" text-anchor="middle" font-weight="normal" font-style="normal" >25</text>
<line x1="487.5" y1="165.6" x2="487.5" y2="284.1" stroke="#2a2a2a" stroke-width="1.3" />
<line x1="487.5" y1="266.4" x2="669" y2="266.4" stroke="#4a4a4a" stroke-width="1.3" />
<text transform="translate(459.8,239.4) rotate(-90)" font-size="9.9" fill="#222" stroke="#222" stroke-width="0.15" text-anchor="middle">Log<tspan font-size="5.54" dy="1.6">10</tspan><tspan dy="-1.6">(2</tspan><tspan font-size="5.54" dy="-2.6">-ΔΔCq</tspan><tspan dy="2.6">)</tspan></text>
<text x="556.7" y="282.4" font-size="9.1" fill="#3737ff" stroke="#3737ff" stroke-width="0.22" text-anchor="start" font-weight="normal" font-style="normal" >Mortalities</text>
<rect x="556.3" y="284.9" width="42.7" height="4.0" fill="#0000ff"/>
<text x="574.8" y="303.5" font-size="10" fill="#222" stroke="#222" stroke-width="0.22" text-anchor="start" font-weight="normal" font-style="normal" >Day</text>
<line x1="501.8" y1="165.8" x2="524.8" y2="165.8" stroke="#008000" stroke-width="2.3" stroke-dasharray="8 1.3 20"/>
<rect x="511.2" y="164.5" width="6.4" height="2.6" fill="#008000"/>
<line x1="501.8" y1="179.3" x2="527.1" y2="179.3" stroke="#ff0000" stroke-width="1.8" />
<rect x="511.2" y="178.05" width="6.4" height="2.5" fill="#ff0000"/>
<text x="529.4" y="169.1" font-size="9.3" fill="#222" stroke="#222" stroke-width="0.22" text-anchor="start" font-weight="normal" font-style="normal" >Resistant</text>
<text x="529.4" y="182.6" font-size="9.3" fill="#222" stroke="#222" stroke-width="0.22" text-anchor="start" font-weight="normal" font-style="normal" >Susceptible</text>
<polyline points="509.8,238.4 555.5,263.0 600.9,248.9 646.1,218.1" fill="none" stroke="#008000" stroke-width="2.3" stroke-dasharray="7.3 7.5"/>
<polyline points="509.8,246.9 555.5,225.1 600.9,185.1 646.1,254.5" fill="none" stroke="#ff0000" stroke-width="1.8"/>
<line x1="509.8" y1="226.3" x2="509.8" y2="249.9" stroke="#008000" stroke-width="1.7" />
<line x1="507.0" y1="226.3" x2="512.6" y2="226.3" stroke="#008000" stroke-width="1.7" />
<line x1="507.0" y1="249.9" x2="512.6" y2="249.9" stroke="#008000" stroke-width="1.7" />
<line x1="555.5" y1="252.5" x2="555.5" y2="273.8" stroke="#008000" stroke-width="1.7" />
<line x1="552.7" y1="252.5" x2="558.3" y2="252.5" stroke="#008000" stroke-width="1.7" />
<line x1="552.7" y1="273.8" x2="558.3" y2="273.8" stroke="#008000" stroke-width="1.7" />
<line x1="600.9" y1="235.0" x2="600.9" y2="264.1" stroke="#008000" stroke-width="1.7" />
<line x1="598.1" y1="235.0" x2="603.6999999999999" y2="235.0" stroke="#008000" stroke-width="1.7" />
<line x1="598.1" y1="264.1" x2="603.6999999999999" y2="264.1" stroke="#008000" stroke-width="1.7" />
<line x1="646.1" y1="205.2" x2="646.1" y2="231.9" stroke="#008000" stroke-width="1.7" />
<line x1="643.3000000000001" y1="205.2" x2="648.9" y2="205.2" stroke="#008000" stroke-width="1.7" />
<line x1="643.3000000000001" y1="231.9" x2="648.9" y2="231.9" stroke="#008000" stroke-width="1.7" />
<line x1="509.8" y1="238.4" x2="509.8" y2="257.1" stroke="#ff0000" stroke-width="1.7" />
<line x1="507.0" y1="238.4" x2="512.6" y2="238.4" stroke="#ff0000" stroke-width="1.7" />
<line x1="507.0" y1="257.1" x2="512.6" y2="257.1" stroke="#ff0000" stroke-width="1.7" />
<line x1="555.5" y1="209.9" x2="555.5" y2="240.1" stroke="#ff0000" stroke-width="1.7" />
<line x1="552.7" y1="209.9" x2="558.3" y2="209.9" stroke="#ff0000" stroke-width="1.7" />
<line x1="552.7" y1="240.1" x2="558.3" y2="240.1" stroke="#ff0000" stroke-width="1.7" />
<line x1="600.9" y1="170.8" x2="600.9" y2="198.6" stroke="#ff0000" stroke-width="1.7" />
<line x1="598.1" y1="170.8" x2="603.6999999999999" y2="170.8" stroke="#ff0000" stroke-width="1.7" />
<line x1="598.1" y1="198.6" x2="603.6999999999999" y2="198.6" stroke="#ff0000" stroke-width="1.7" />
<line x1="646.1" y1="245.6" x2="646.1" y2="263.7" stroke="#ff0000" stroke-width="1.7" />
<line x1="643.3000000000001" y1="245.6" x2="648.9" y2="245.6" stroke="#ff0000" stroke-width="1.7" />
<line x1="643.3000000000001" y1="263.7" x2="648.9" y2="263.7" stroke="#ff0000" stroke-width="1.7" />
<rect x="504.3" y="236.9" width="11" height="3" fill="#008000"/>
<rect x="550.0" y="261.5" width="11" height="3" fill="#008000"/>
<rect x="595.4" y="247.4" width="11" height="3" fill="#008000"/>
<rect x="640.6" y="216.6" width="11" height="3" fill="#008000"/>
<rect x="504.3" y="245.4" width="11" height="3" fill="#ff0000"/>
<rect x="550.0" y="223.6" width="11" height="3" fill="#ff0000"/>
<rect x="595.4" y="183.6" width="11" height="3" fill="#ff0000"/>
<rect x="640.6" y="253.0" width="11" height="3" fill="#ff0000"/>
<text x="519.3" y="237.8" font-size="9.2" fill="#222" stroke="#222" stroke-width="0.22" text-anchor="start" font-weight="normal" font-style="normal" >AB</text>
<text x="521.3" y="251.1" font-size="9.2" fill="#222" stroke="#222" stroke-width="0.22" text-anchor="start" font-weight="normal" font-style="normal" >B</text>
<text x="565.4" y="228.3" font-size="9.2" fill="#222" stroke="#222" stroke-width="0.22" text-anchor="start" font-weight="normal" font-style="normal" >AB</text>
<text x="563.3" y="259.5" font-size="9.2" fill="#222" stroke="#222" stroke-width="0.22" text-anchor="start" font-weight="normal" font-style="normal" >B</text>
<text x="611.6" y="188.2" font-size="9.2" fill="#222" stroke="#222" stroke-width="0.22" text-anchor="start" font-weight="normal" font-style="normal" >A</text>
<text x="611.7" y="253.0" font-size="9.2" fill="#222" stroke="#222" stroke-width="0.22" text-anchor="start" font-weight="normal" font-style="normal" >B</text>
<text x="653.8" y="222.1" font-size="9.2" fill="#222" stroke="#222" stroke-width="0.22" text-anchor="start" font-weight="normal" font-style="normal" >AB</text>
<text x="657.2" y="257.5" font-size="9.2" fill="#222" stroke="#222" stroke-width="0.22" text-anchor="start" font-weight="normal" font-style="normal" >B</text>
</svg>
</body></html>
